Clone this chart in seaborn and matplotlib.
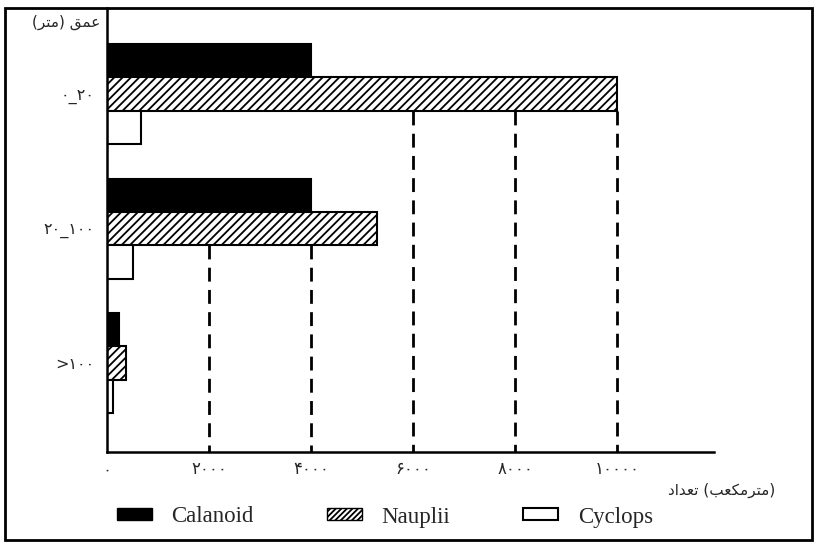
import numpy as np
import pandas as pd
import matplotlib
matplotlib.use("Agg")
import matplotlib.pyplot as plt
import matplotlib.patches as mpatches
import seaborn as sns

# Data
depths = ["۰_۲۰", "۲۰_۱۰۰", ">۱۰۰"]
groups = ["Calanoid", "Nauplii", "Cyclops"]
calanoid = [4000, 4000, 235]
nauplii = [10000, 5300, 372]
cyclops = [660, 510, 110]
xticks = [0, 2000, 4000, 6000, 8000, 10000]
xtick_labels = ["۰", "۲۰۰۰", "۴۰۰۰", "۶۰۰۰", "۸۰۰۰", "۱۰۰۰۰"]

# Persian labels written in visual (shaped) order, since matplotlib has no RTL shaping
ylabel_txt = "(\uFEAE\uFE98\uFEE3) \uFED6\uFEE4\uFECB"                       # عمق (متر)
xlabel_txt = "\uFEA9\uFE8D\uFEAA\uFECC\uFE97 (\uFE90\uFECC\uFB91\uFEE3\uFEAE\uFE98\uFEE3)"  # تعداد (مترمکعب)

df = pd.DataFrame({
    "depth": depths * 3,
    "group": [g for g in groups for _ in depths],
    "count": calanoid + nauplii + cyclops,
})

sns.set_style("white")
plt.rcParams["font.family"] = ["DejaVu Sans"]
plt.rcParams["hatch.linewidth"] = 1.3
plt.rcParams["hatch.color"] = "black"

fig = plt.figure(figsize=(8.19, 5.44), dpi=100)
ax = fig.add_axes([107 / 819, 92 / 544, (714 - 107) / 819, (536 - 92) / 544])

sns.barplot(data=df, y="depth", x="count", hue="group", order=depths, hue_order=groups,
            orient="h", width=0.745, dodge=True, legend=False, ax=ax,
            palette=["black", "white", "white"], saturation=1, errorbar=None)

styles = [dict(fc="black", hatch=None), dict(fc="white", hatch="////"), dict(fc="white", hatch=None)]
for cont, st in zip(ax.containers, styles):
    for bar in cont:
        bar.set_facecolor(st["fc"])
        bar.set_edgecolor("black")
        bar.set_linewidth(1.5)
        if st["hatch"]:
            bar.set_hatch(st["hatch"])

ax.set_xlim(0, 11900)
ax.set_ylim(2.66, -0.64)

# dashed drop lines: from below the lowest bar reaching each tick down to the axis
ybot = ax.get_ylim()[0]
for t in xticks[1:]:
    bottoms = [b.get_y() + b.get_height() for c in ax.containers for b in c if b.get_width() >= t]
    if bottoms:
        ax.vlines(t, max(bottoms), ybot, colors="black", linestyles=(0, (5, 3)), lw=2, zorder=0)

ax.set_xticks(xticks)
ax.set_xticklabels(xtick_labels, fontsize=12)
ax.tick_params(axis="x", length=0, pad=6)
ax.tick_params(axis="y", length=0, pad=9, labelsize=11.5)
ax.set_xlabel("")
ax.set_ylabel("")
for s in ["top", "right"]:
    ax.spines[s].set_visible(False)
for s in ["left", "bottom"]:
    ax.spines[s].set_linewidth(1.8)
    ax.spines[s].set_color("black")

fig.text(100 / 819, 1 - 22 / 544, ylabel_txt, ha="right", va="center", fontsize=11)
fig.text(775 / 819, 1 - 490 / 544, xlabel_txt, ha="right", va="center", fontsize=11)

# legend
handles = [
    mpatches.Patch(facecolor="black", edgecolor="black", label="Calanoid"),
    mpatches.Patch(facecolor="white", edgecolor="black", hatch="//////", label="Nauplii"),
    mpatches.Patch(facecolor="white", edgecolor="black", lw=1.5, label="Cyclops"),
]
fig.legend(handles=handles, loc="center left", bbox_to_anchor=(96 / 819, 1 - 517 / 544),
           ncol=3, frameon=False, prop={"family": "Liberation Serif", "size": 16.5},
           handlelength=1.53, handleheight=0.45, handletextpad=0.85, columnspacing=3.2)

# outer frame
fig.patches.append(mpatches.Rectangle((5 / 819, 4 / 544), 807 / 819, 532 / 544, transform=fig.transFigure,
                                      fill=False, edgecolor="black", lw=2))

fig.savefig("out.png", dpi=100)
